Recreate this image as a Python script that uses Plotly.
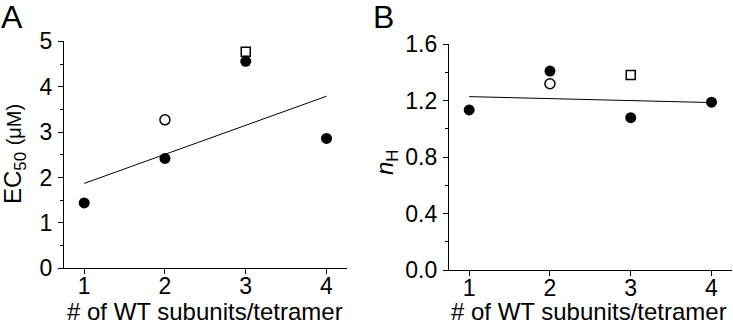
import plotly.graph_objects as go

# Number of WT subunits per tetramer
subunits = [1, 2, 3, 4]

# Panel A: EC50 (uM)
ec50_filled = [1.44, 2.42, 4.56, 2.86]
ec50_open_circle_x = [2]
ec50_open_circle = [3.27]
ec50_open_square_x = [3]
ec50_open_square = [4.77]
ec50_fit_x = [1, 4]
ec50_fit = [1.87, 3.79]

# Panel B: Hill coefficient
nh_filled = [1.135, 1.41, 1.08, 1.19]
nh_open_circle_x = [2]
nh_open_circle = [1.32]
nh_open_square_x = [3]
nh_open_square = [1.383]
nh_fit_x = [1, 4]
nh_fit = [1.229, 1.187]

W, H = 733, 324
FONT = "Liberation Sans, Arial, sans-serif"

fig = go.Figure()


def add_panel(xa, ya, filled, oc_x, oc, sq_x, sq, fit_x, fit):
    fig.add_trace(go.Scatter(x=fit_x, y=fit, mode="lines",
                             line=dict(color="black", width=1),
                             xaxis=xa, yaxis=ya, showlegend=False, hoverinfo="skip"))
    fig.add_trace(go.Scatter(x=subunits, y=filled, mode="markers",
                             marker=dict(symbol="circle", size=11, color="black",
                                         line=dict(width=0)),
                             xaxis=xa, yaxis=ya, showlegend=False))
    fig.add_trace(go.Scatter(x=oc_x, y=oc, mode="markers",
                             marker=dict(symbol="circle-open", size=10, color="black",
                                         line=dict(width=1.5)),
                             xaxis=xa, yaxis=ya, showlegend=False))
    fig.add_trace(go.Scatter(x=sq_x, y=sq, mode="markers",
                             marker=dict(symbol="square-open", size=9, color="black",
                                         line=dict(width=1.5)),
                             xaxis=xa, yaxis=ya, showlegend=False))


add_panel("x", "y", ec50_filled, ec50_open_circle_x, ec50_open_circle,
          ec50_open_square_x, ec50_open_square, ec50_fit_x, ec50_fit)
add_panel("x2", "y2", nh_filled, nh_open_circle_x, nh_open_circle,
          nh_open_square_x, nh_open_square, nh_fit_x, nh_fit)

xcommon = dict(range=[0.75, 4.25], tickvals=subunits, ticks="outside", ticklen=5,
               tickwidth=1, tickcolor="black", showline=True, linecolor="black",
               linewidth=1.3, showgrid=False, zeroline=False, automargin=False,
               ticklabelstandoff=-8,
               tickfont=dict(family=FONT, size=23, color="black"))
ycommon = dict(ticks="outside", ticklen=5, tickwidth=1, tickcolor="black",
               showline=True, linecolor="black", linewidth=1.3, showgrid=False,
               zeroline=False, automargin=False, ticklabelstandoff=1,
               tickfont=dict(family=FONT, size=23, color="black"))

fig.update_layout(
    template="none",
    width=W, height=H,
    margin=dict(l=0, r=0, t=0, b=0),
    paper_bgcolor="white", plot_bgcolor="white",
    xaxis=dict(domain=[64 / W, 346.7 / W], anchor="y", **xcommon),
    yaxis=dict(domain=[(H - 268.3) / H, (H - 41.3) / H], anchor="x",
               range=[0, 5], tickvals=[0, 1, 2, 3, 4, 5],
               minor=dict(dtick=0.5, ticks="outside", ticklen=3, tickcolor="black",
                          showgrid=False),
               **ycommon),
    xaxis2=dict(domain=[449 / W, 731.7 / W], anchor="y2", **xcommon),
    yaxis2=dict(domain=[(H - 270) / H, (H - 44.3) / H], anchor="x2",
                range=[0, 1.6], tickvals=[0, 0.4, 0.8, 1.2, 1.6], tickformat=".1f",
                minor=dict(dtick=0.2, ticks="outside", ticklen=3, tickcolor="black",
                           showgrid=False),
                **ycommon),
)

annos = [
    dict(x=-1 / W, y=1 + 3 / H, xanchor="left", yanchor="top", text="A",
         font=dict(family=FONT, size=32, color="black")),
    dict(x=371 / W, y=1 + 3 / H, xanchor="left", yanchor="top", text="B",
         font=dict(family=FONT, size=32, color="black")),
    dict(x=205 / W, y=(H - 311) / H, xanchor="center", yanchor="middle",
         text="# of WT subunits/tetramer",
         font=dict(family=FONT, size=24, color="black")),
    dict(x=589 / W, y=(H - 311) / H, xanchor="center", yanchor="middle",
         text="# of WT subunits/tetramer",
         font=dict(family=FONT, size=24, color="black")),
    dict(x=14 / W, y=(H - 154) / H, xanchor="center", yanchor="middle", textangle=-90,
         text="EC<sub>50</sub> <span style='font-size:20px'>(\u03bcM)</span>",
         font=dict(family=FONT, size=24, color="black")),
    dict(x=386 / W, y=(H - 163) / H, xanchor="center", yanchor="middle", textangle=-90,
         text="<i>n</i><sub>H</sub>",
         font=dict(family=FONT, size=24, color="black")),
]
for a in annos:
    a.update(xref="paper", yref="paper", showarrow=False)
fig.update_layout(annotations=annos)

fig.write_html("out.html")
